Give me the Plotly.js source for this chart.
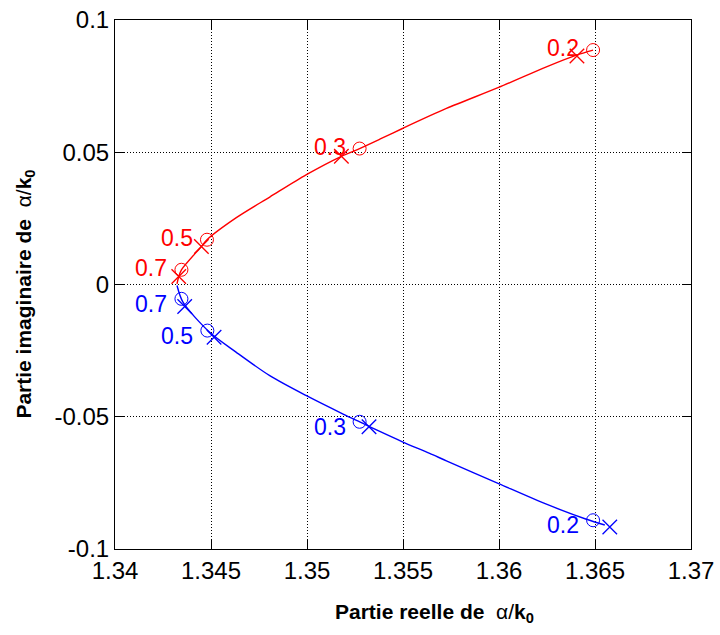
<!DOCTYPE html>
<html>
<head>
<meta charset="utf-8">
<script src="https://cdn.plot.ly/plotly-3.0.1.min.js"></script>
<style>html,body{margin:0;padding:0;background:#fff;}#chart{width:720px;height:635px;}</style>
</head>
<body>
<div id="chart"></div>
<script>
// Frequency labels of the marked points
var labels = ["0.2", "0.3", "0.5", "0.7"];

// Red branch (positive imaginary part)
var redCurveX = [1.34323, 1.34332, 1.34346, 1.34450, 1.34479, 1.34632, 1.34806, 1.34997, 1.35179, 1.35274, 1.35379, 1.35497, 1.35726, 1.35998, 1.36247, 1.36403, 1.36490];
var redCurveY = [0.00027, 0.00303, 0.00557, 0.01439, 0.01693, 0.02527, 0.03307, 0.04155, 0.04848, 0.05140, 0.05492, 0.05898, 0.06655, 0.07451, 0.08231, 0.08674, 0.08864];
var redCircleX = [1.36490, 1.35274, 1.34479, 1.34346];
var redCircleY = [0.08864, 0.05140, 0.01693, 0.00557];
var redCrossX = [1.36406, 1.35179, 1.34450, 1.34332];
var redCrossY = [0.08636, 0.04848, 0.01439, 0.00303];

// Blue branch (negative imaginary part)
var blueCurveX = [1.34323, 1.34354, 1.34493, 1.34632, 1.34806, 1.34997, 1.35188, 1.35292, 1.35379, 1.35497, 1.35639, 1.35726, 1.35998, 1.36247, 1.36455, 1.36551];
var blueCurveY = [-0.00038, -0.00670, -0.01807, -0.02564, -0.03447, -0.04205, -0.04898, -0.05254, -0.05557, -0.05947, -0.06385, -0.06667, -0.07527, -0.08307, -0.08875, -0.09091];
var blueCircleX = [1.36490, 1.35274, 1.34481, 1.34346];
var blueCircleY = [-0.08913, -0.05190, -0.01742, -0.00542];
var blueCrossX = [1.36577, 1.35323, 1.34516, 1.34363];
var blueCrossY = [-0.09167, -0.05379, -0.01996, -0.00833];

// Axis ticks
var xTickVals = [1.34, 1.345, 1.35, 1.355, 1.36, 1.365, 1.37];
var xTickText = ["1.34", "1.345", "1.35", "1.355", "1.36", "1.365", "1.37"];
var yTickVals = [-0.1, -0.05, 0, 0.05, 0.1];
var yTickText = ["-0.1", "-0.05", "0", "0.05", "0.1"];

var xTitle = "<b>Partie reelle de </b> α/<b>k<sub>0</sub></b>";
var yTitle = "<b>Partie imaginaire de </b> α/<b>k<sub>0</sub></b>";

var RED = "#ff0000", BLUE = "#0000ff";
var FONT = "Liberation Sans, Arial, sans-serif";

var traces = [
  {x: redCurveX, y: redCurveY, mode: "lines", line: {color: RED, width: 1.4, shape: "spline", smoothing: 0.8}, hoverinfo: "skip"},
  {x: blueCurveX, y: blueCurveY, mode: "lines", line: {color: BLUE, width: 1.4, shape: "spline", smoothing: 0.8}, hoverinfo: "skip"},
  {x: redCircleX, y: redCircleY, mode: "markers", marker: {symbol: "circle-open", size: 13, color: RED, line: {width: 1, color: RED}}},
  {x: redCrossX, y: redCrossY, mode: "markers", marker: {symbol: "x-thin-open", size: 14.5, color: RED, line: {width: 1.3, color: RED}}},
  {x: blueCircleX, y: blueCircleY, mode: "markers", marker: {symbol: "circle-open", size: 13, color: BLUE, line: {width: 1, color: BLUE}}},
  {x: blueCrossX, y: blueCrossY, mode: "markers", marker: {symbol: "x-thin-open", size: 14.5, color: BLUE, line: {width: 1.3, color: BLUE}}}
];

var annotations = [];
labels.forEach(function (t, i) {
  annotations.push({x: redCircleX[i], y: redCircleY[i], xref: "x", yref: "y", text: t, showarrow: false,
    xanchor: "right", yanchor: "middle", xshift: -12, yshift: 2, font: {family: FONT, size: 23, color: RED}});
  annotations.push({x: blueCircleX[i], y: blueCircleY[i], xref: "x", yref: "y", text: t, showarrow: false,
    xanchor: "right", yanchor: "middle", xshift: -12, yshift: -5, font: {family: FONT, size: 23, color: BLUE}});
});
// Axis titles placed as annotations (paper coordinates)
annotations.push({xref: "paper", yref: "paper", x: 0.555, y: -0.121, xanchor: "center", yanchor: "middle",
  text: xTitle, showarrow: false, font: {family: FONT, size: 21, color: "#000"}});
annotations.push({xref: "paper", yref: "paper", x: -0.157, y: 0.482, xanchor: "center", yanchor: "middle",
  text: yTitle, textangle: -90, showarrow: false, font: {family: FONT, size: 21, color: "#000"}});

var axisCommon = {
  showline: true, linecolor: "#000", linewidth: 1, mirror: "ticks",
  ticks: "inside", ticklen: 9, tickcolor: "#000", tickwidth: 1,
  showgrid: true, gridcolor: "#000", gridwidth: 1, griddash: "1px,2px",
  zeroline: false, tickfont: {family: FONT, size: 24, color: "#000"}
};

var layout = {
  width: 720, height: 635,
  margin: {l: 115, r: 29, t: 20, b: 86},
  paper_bgcolor: "#fff", plot_bgcolor: "#fff",
  showlegend: false,
  font: {family: FONT, color: "#000"},
  xaxis: Object.assign({}, axisCommon, {
    range: [1.34, 1.37], tickmode: "array", tickvals: xTickVals, ticktext: xTickText
  }),
  yaxis: Object.assign({}, axisCommon, {
    range: [-0.1, 0.1], tickmode: "array", tickvals: yTickVals, ticktext: yTickText
  }),
  annotations: annotations
};

Plotly.newPlot("chart", traces, layout, {displayModeBar: false, staticPlot: true});
</script>
</body>
</html>
